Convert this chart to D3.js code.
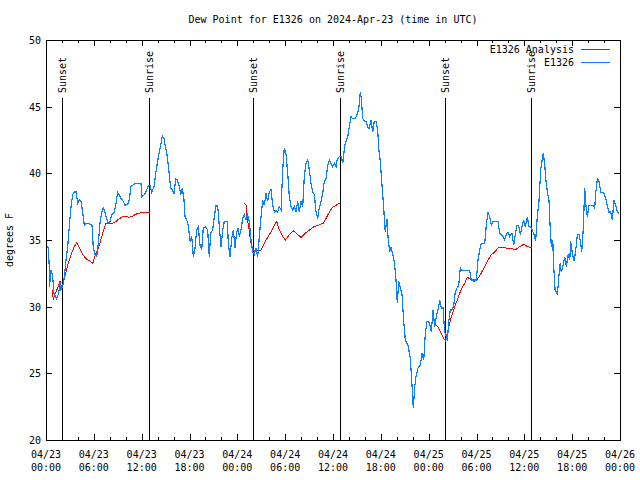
<!DOCTYPE html>
<html>
<head>
<meta charset="utf-8">
<script src="https://cdn.jsdelivr.net/npm/d3@7"></script>
<style>
  body { margin: 0; background: #fff; }
  text { font-family: "DejaVu Sans Mono", monospace; font-size: 10px; fill: #000; }
</style>
</head>
<body>
<div id="vis"></div>
<script>
const FRAME_WIDTH = 640;
const FRAME_HEIGHT = 480;
const MARGINS = {left: 46, right: 20, top: 40, bottom: 40};

// hours since 2024-04-23 00:00 UTC
const obsHours = [0.13,0.29,0.41,0.44,0.63,0.84,1.00,1.34,1.59,1.76,1.88,2.09,2.30,2.51,2.72,2.92,3.14,3.35,3.55,3.76,3.98,4.18,4.39,4.60,4.80,5.02,5.43,5.77,5.93,6.15,6.36,6.56,6.77,6.99,7.19,7.40,7.61,7.81,8.03,8.24,8.57,8.78,8.99,9.19,9.41,9.70,9.91,10.25,10.45,10.66,11.08,11.70,11.92,12.04,12.33,12.54,12.83,13.05,13.26,13.55,13.76,13.96,14.17,14.39,14.59,14.80,15.02,15.22,15.43,15.64,15.84,16.06,16.27,16.47,16.68,16.90,17.10,17.31,17.44,17.65,17.85,18.06,18.28,18.48,18.69,18.90,19.10,19.32,19.53,19.73,20.03,20.28,20.48,20.66,20.91,21.11,21.32,21.54,21.74,21.95,22.17,22.37,22.74,22.87,23.08,23.29,23.50,23.71,23.92,24.12,24.25,24.46,24.67,24.87,25.09,25.30,25.50,25.72,25.93,26.13,26.34,26.56,26.76,26.97,27.18,27.38,27.60,27.81,28.01,28.22,28.44,28.64,28.85,29.06,29.27,29.48,29.69,29.89,30.11,30.32,30.52,30.73,30.95,31.15,31.36,31.57,31.77,31.99,32.20,32.40,32.61,32.83,33.03,33.24,33.46,33.66,33.87,34.08,34.28,34.50,34.71,34.91,35.12,35.34,35.54,35.75,35.96,36.16,36.38,36.50,36.79,37.04,37.22,37.47,37.63,37.85,38.05,38.26,38.47,38.80,39.01,39.22,39.43,39.55,39.73,39.93,40.14,40.39,40.56,40.77,40.98,41.18,41.39,41.61,41.73,41.93,42.15,42.36,42.49,42.56,42.77,42.90,43.11,43.28,43.49,43.69,43.90,44.07,44.24,44.44,44.66,44.87,45.07,45.41,45.70,45.91,46.07,46.25,46.41,46.66,46.95,47.17,47.38,47.58,47.79,48.01,48.21,48.33,48.55,48.76,48.96,49.17,49.39,49.59,49.80,50.01,50.21,50.34,50.52,50.71,50.93,51.14,51.34,51.56,51.77,51.97,52.18,52.85,53.15,53.35,53.98,54.19,54.40,54.60,55.03,55.23,55.44,55.65,55.86,56.07,56.70,56.91,57.11,57.33,57.54,57.74,57.95,58.16,58.45,58.67,58.87,59.08,59.29,59.50,59.71,59.92,60.13,60.37,60.58,60.80,61.00,61.21,61.42,61.62,61.84,62.05,62.26,62.38,62.56,62.69,62.89,63.10,63.23,63.39,63.57,63.65,63.86,64.02,64.15,64.28,64.49,64.64,64.85,65.07,65.27,65.48,65.70,65.82,66.02,66.24,66.45,66.65,66.86,67.07,67.20,67.40,67.57,67.70,67.90,68.11,68.62,68.83,68.95,69.16,69.36,69.58,69.99,70.21,70.41,70.62,70.83,71.04,71.24,71.45,71.66,71.87];
const obsDew = [34.5,34.4,33.0,31.5,32.75,32.25,31.0,30.6,31.0,31.8,31.25,31.5,32.25,33.5,34.5,36.0,37.5,38.4,38.6,38.6,37.75,38.0,37.9,37.1,36.1,36.25,36.2,36.1,34.4,33.9,33.75,34.75,36.25,37.1,37.4,37.1,36.6,36.25,36.4,36.9,37.1,37.75,38.55,38.4,38.1,37.9,37.6,37.7,38.0,39.0,39.2,39.25,39.25,38.25,38.4,38.6,39.1,39.1,38.6,39.0,40.0,40.75,41.5,42.1,42.8,42.6,41.9,41.25,40.1,38.9,38.75,38.5,39.6,39.5,39.1,38.4,38.9,38.0,36.75,36.5,36.1,34.9,35.25,33.75,34.4,35.75,36.0,34.6,34.25,35.9,36.0,35.75,33.75,35.5,35.75,36.75,37.55,37.55,36.0,34.5,35.75,36.4,36.4,34.75,33.75,35.1,35.75,34.4,35.6,35.9,35.25,35.75,36.6,36.9,36.5,36.9,36.4,35.0,34.1,33.9,34.4,33.75,35.25,36.75,38.0,37.6,38.5,37.9,38.6,38.8,37.6,37.1,37.25,37.1,37.5,37.25,40.25,41.9,41.4,40.0,38.25,37.5,37.25,37.5,37.1,37.9,37.1,37.9,37.5,39.75,40.75,41.0,40.25,39.25,38.6,38.4,37.1,36.6,37.4,37.9,38.5,39.4,39.6,40.6,41.0,40.75,40.5,40.75,40.5,41.0,41.25,41.25,40.75,42.1,42.4,42.75,43.5,44.25,44.1,44.1,44.4,44.75,46.1,45.6,44.1,43.9,43.9,43.4,43.4,44.0,43.1,43.9,43.9,43.25,41.9,40.9,39.1,37.4,36.1,35.6,36.6,35.25,34.1,34.5,33.9,33.4,32.0,30.25,31.9,31.4,30.9,28.9,27.5,27.1,26.1,24.1,22.4,24.0,24.75,25.4,25.6,26.5,26.0,28.0,28.9,28.9,28.5,28.1,29.75,28.5,29.25,29.75,30.5,29.9,29.9,28.1,27.75,27.4,28.9,29.75,29.75,30.1,31.1,31.4,31.6,32.9,32.7,32.7,32.7,32.0,32.0,33.5,34.25,34.75,34.75,36.1,37.1,36.75,36.1,36.4,36.4,35.5,35.4,35.25,35.0,35.4,35.6,35.25,35.5,34.6,35.4,36.1,36.1,35.4,36.0,36.5,36.0,36.75,36.0,36.0,35.75,35.4,34.9,36.75,37.9,40.25,41.1,41.5,40.6,39.6,38.6,37.9,36.1,34.5,35.0,33.4,31.25,31.1,30.9,31.9,33.25,32.6,33.1,33.75,33.0,33.9,33.5,34.9,34.0,33.4,34.25,35.4,35.4,34.75,34.1,35.9,38.9,37.75,36.75,37.6,37.6,37.4,38.5,39.6,39.4,38.6,38.5,38.1,37.6,37.1,37.1,36.5,38.0,37.6,37.1,37.0];

// analysis series, null marks a gap between segments
const anaHours = [0.75,0.92,1.17,1.47,1.76,2.01,2.30,2.72,3.14,3.55,3.85,4.18,4.60,5.02,5.43,5.86,6.27,6.69,7.11,7.53,8.37,8.78,9.19,9.82,10.37,10.88,11.50,12.13,13.05,
  13.5,
  24.87,25.09,25.21,25.43,25.59,25.80,26.00,26.34,26.97,27.38,27.81,28.22,28.64,28.94,29.27,29.69,30.02,30.52,31.02,31.48,31.99,32.40,32.95,33.46,34.08,34.78,35.12,35.54,35.96,36.38,36.92,
  37.5,
  48.96,49.26,49.51,49.80,50.09,50.34,50.64,50.93,51.27,51.59,51.89,52.18,52.52,52.85,53.15,53.35,53.69,54.10,54.53,54.94,55.36,55.86,56.28,56.70,57.11,57.74,58.29,58.87,59.42,59.96,60.37,61.00];
const anaDew = [31.25,30.6,31.0,31.4,31.9,31.4,32.1,33.1,33.9,34.5,34.8,34.4,33.9,33.6,33.45,33.25,34.0,34.6,35.5,36.25,36.25,36.4,36.6,36.8,36.7,36.8,37.0,37.05,37.1,
  null,
  37.75,37.6,36.75,36.0,35.25,34.5,34.25,34.2,34.25,34.75,35.2,35.6,36.1,36.4,35.75,35.25,35.0,35.4,35.7,35.45,35.2,35.45,35.7,35.95,36.1,36.25,36.6,37.1,37.45,37.6,37.8,
  null,
  28.6,28.4,28.05,27.7,27.45,28.0,28.75,29.4,30.0,30.5,31.0,31.4,31.75,32.2,32.1,32.0,31.9,32.05,32.45,32.9,33.4,33.9,34.1,34.4,34.45,34.4,34.4,34.25,34.5,34.7,34.5,34.4];

const sunHours = [2.01, 12.92, 25.97, 36.88, 50.05, 60.84];
const sunNames = ['Sunset', 'Sunrise', 'Sunset', 'Sunrise', 'Sunset', 'Sunrise'];

const yTicks = [20, 25, 30, 35, 40, 45, 50];
const xTickHours = [0, 6, 12, 18, 24, 30, 36, 42, 48, 54, 60, 66, 72];
const xTickDates = ['04/23','04/23','04/23','04/23','04/24','04/24','04/24','04/24','04/25','04/25','04/25','04/25','04/26'];
const xTickTimes = ['00:00','06:00','12:00','18:00','00:00','06:00','12:00','18:00','00:00','06:00','12:00','18:00','00:00'];

const BLUE = '#0a80ff';
const RED = '#ff0000';

const VIS_WIDTH = FRAME_WIDTH - MARGINS.left - MARGINS.right;
const VIS_HEIGHT = FRAME_HEIGHT - MARGINS.top - MARGINS.bottom;

const FRAME = d3.select('#vis')
  .append('svg')
    .attr('width', FRAME_WIDTH)
    .attr('height', FRAME_HEIGHT);

const X_SCALE = d3.scaleLinear().domain([0, 72]).range([MARGINS.left, MARGINS.left + VIS_WIDTH]);
const Y_SCALE = d3.scaleLinear().domain([20, 50]).range([MARGINS.top + VIS_HEIGHT, MARGINS.top]);

// title and y label
FRAME.append('text')
  .attr('x', 333).attr('y', 23)
  .attr('text-anchor', 'middle')
  .text('Dew Point for E1326 on 2024-Apr-23 (time in UTC)');

FRAME.append('text')
  .attr('transform', 'translate(13,240) rotate(-90)')
  .attr('text-anchor', 'middle')
  .text('degrees F');

// ticks, gnuplot style: inward and mirrored
const axisG = FRAME.append('g').attr('shape-rendering', 'crispEdges').attr('stroke', '#000');

yTicks.forEach((t) => {
  const y = Math.round(Y_SCALE(t)) + 0.5;
  axisG.append('line').attr('x1', MARGINS.left).attr('x2', MARGINS.left + 6).attr('y1', y).attr('y2', y);
  axisG.append('line').attr('x1', MARGINS.left + VIS_WIDTH - 6).attr('x2', MARGINS.left + VIS_WIDTH).attr('y1', y).attr('y2', y);
});

d3.range(0, 73, 2).forEach((h) => {
  const x = Math.round(X_SCALE(h)) + 0.5;
  const len = (h % 6 === 0) ? 6 : 3;
  axisG.append('line').attr('x1', x).attr('x2', x).attr('y1', MARGINS.top + VIS_HEIGHT).attr('y2', MARGINS.top + VIS_HEIGHT - len);
  axisG.append('line').attr('x1', x).attr('x2', x).attr('y1', MARGINS.top).attr('y2', MARGINS.top + len);
});

FRAME.selectAll('.ylab')
  .data(yTicks)
  .enter()
  .append('text')
    .attr('x', MARGINS.left - 5)
    .attr('y', (d) => Y_SCALE(d) + 4)
    .attr('text-anchor', 'end')
    .text((d) => d);

FRAME.selectAll('.xlab1')
  .data(xTickHours)
  .enter()
  .append('text')
    .attr('x', (d) => X_SCALE(d))
    .attr('y', 458)
    .attr('text-anchor', 'middle')
    .text((d, i) => xTickDates[i]);

FRAME.selectAll('.xlab2')
  .data(xTickHours)
  .enter()
  .append('text')
    .attr('x', (d) => X_SCALE(d))
    .attr('y', 471)
    .attr('text-anchor', 'middle')
    .text((d, i) => xTickTimes[i]);

// sunrise / sunset markers
FRAME.selectAll('.sunline')
  .data(sunHours)
  .enter()
  .append('line')
    .attr('x1', (d) => Math.round(X_SCALE(d)) + 0.5)
    .attr('x2', (d) => Math.round(X_SCALE(d)) + 0.5)
    .attr('y1', 98)
    .attr('y2', MARGINS.top + VIS_HEIGHT)
    .attr('stroke', '#000')
    .attr('shape-rendering', 'crispEdges');

FRAME.selectAll('.sunlab')
  .data(sunHours)
  .enter()
  .append('text')
    .attr('transform', (d) => 'translate(' + (X_SCALE(d) + 4) + ',93) rotate(-90)')
    .attr('text-anchor', 'start')
    .text((d, i) => sunNames[i]);

// data lines
const obsData = obsHours.map((h, i) => [h, obsDew[i]]);
const anaData = anaHours.map((h, i) => [h, anaDew[i]]);

const line = d3.line()
  .defined((d) => d[1] !== null)
  .x((d) => X_SCALE(d[0]))
  .y((d) => Y_SCALE(d[1]));

FRAME.append('path')
  .datum(anaData)
  .attr('d', line)
  .attr('fill', 'none')
  .attr('stroke', RED)
  .attr('stroke-width', 1)
  .attr('shape-rendering', 'crispEdges');

FRAME.append('path')
  .datum(obsData)
  .attr('d', line)
  .attr('fill', 'none')
  .attr('stroke', BLUE)
  .attr('stroke-width', 1.2)
  .attr('shape-rendering', 'crispEdges');

// legend
const legend = [{name: 'E1326 Analysis', color: RED, y: 49}, {name: 'E1326', color: BLUE, y: 62}];
legend.forEach((l) => {
  FRAME.append('text')
    .attr('x', 574).attr('y', l.y + 4)
    .attr('text-anchor', 'end')
    .text(l.name);
  FRAME.append('line')
    .attr('x1', 581).attr('x2', 610)
    .attr('y1', l.y + 0.5).attr('y2', l.y + 0.5)
    .attr('stroke', l.color)
    .attr('shape-rendering', 'crispEdges');
});

// border
FRAME.append('rect')
  .attr('x', MARGINS.left + 0.5).attr('y', MARGINS.top + 0.5)
  .attr('width', VIS_WIDTH).attr('height', VIS_HEIGHT)
  .attr('fill', 'none')
  .attr('stroke', '#000')
  .attr('shape-rendering', 'crispEdges');
</script>
</body>
</html>
